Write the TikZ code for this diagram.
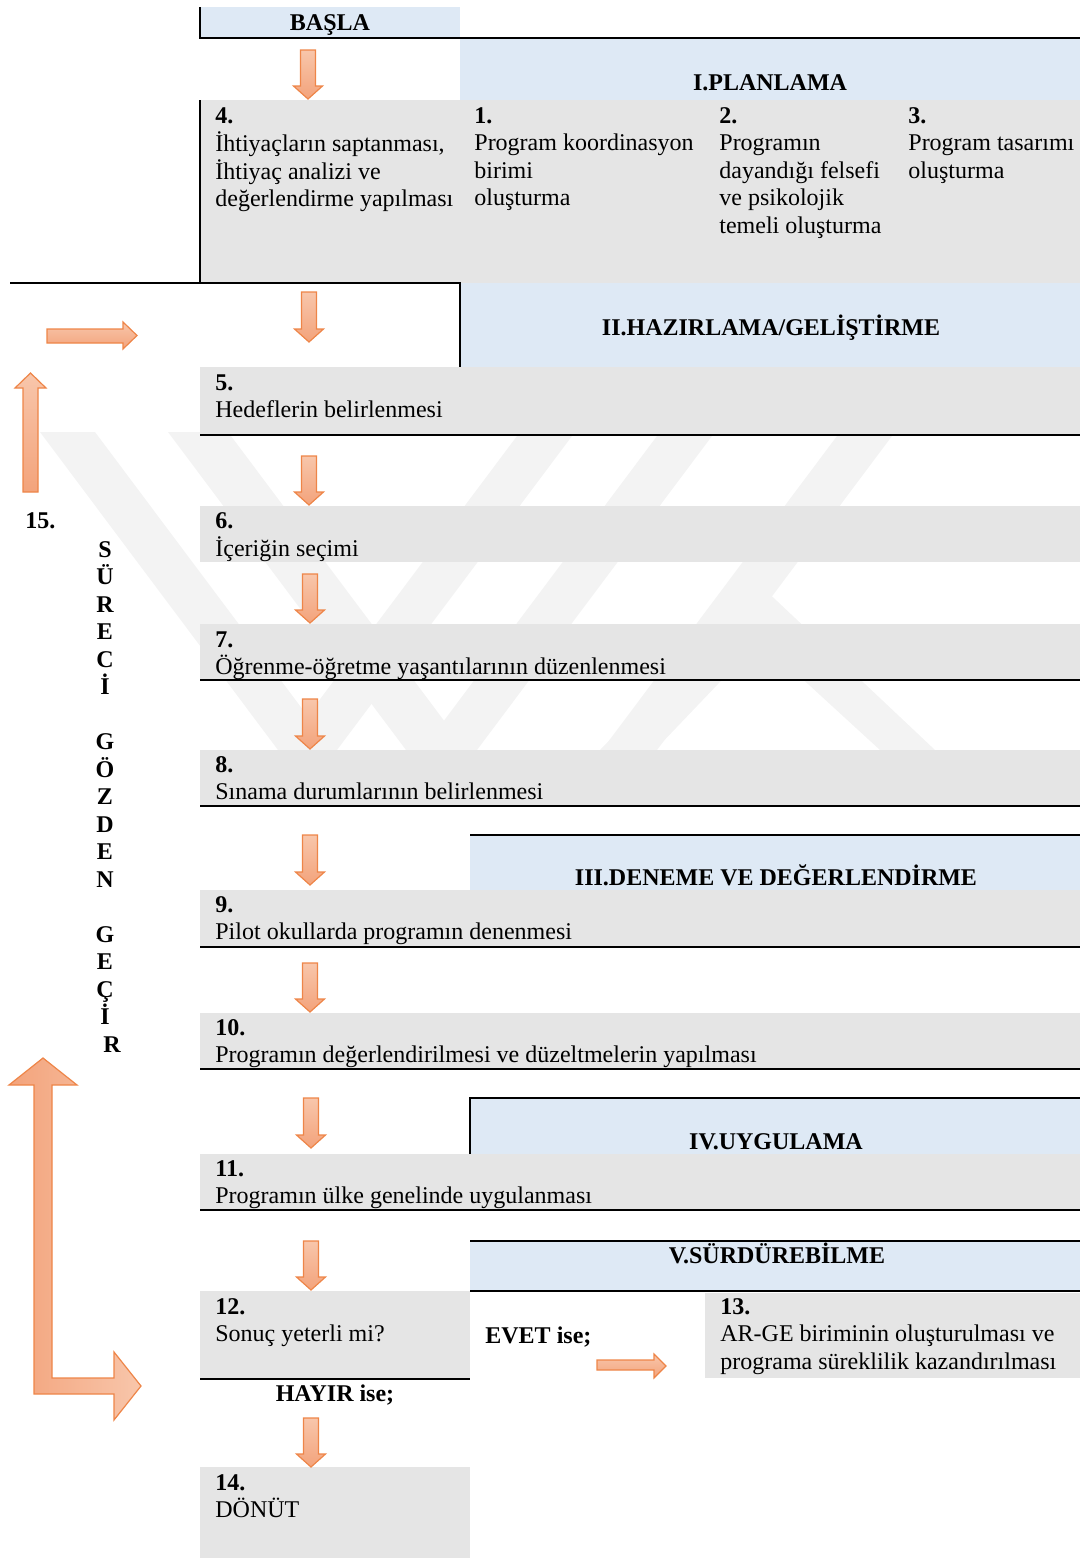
\documentclass[tikz,border=0pt]{standalone}
\usepackage{fontspec}
\setmainfont{Liberation Serif}
\usetikzlibrary{fit}

\definecolor{hdrblue}{HTML}{DEE9F5}
\definecolor{boxgray}{HTML}{E5E5E5}
\definecolor{markgray}{HTML}{F3F3F3}
\definecolor{arrline}{HTML}{EE8548}
\definecolor{arrlight}{HTML}{F8C6AB}
\definecolor{arrdark}{HTML}{F3A37B}

% numbered block: bold number on the first line, then the text lines
\newcommand\blk[2]{\begin{tabular}[t]{@{}l@{}}\textbf{#1}\\#2\end{tabular}}

% block arrow pointing down: centre x, top y, tip y
\newcommand\DownArr[3]{%
  \path[blockarrow] ({#1-7.5},#2) -- ({#1+7.5},#2) -- ({#1+7.5},{#3-13})
    -- ({#1+14.5},{#3-13}) -- (#1,#3) -- ({#1-14.5},{#3-13})
    -- ({#1-7.5},{#3-13}) -- cycle;}

\begin{document}
\begin{tikzpicture}[x=0.5pt,y=-0.5pt,
  font=\fontsize{12pt}{13.8pt}\selectfont,
  graybox/.style={fill=boxgray,draw=none,inner sep=0pt,outer sep=0pt},
  bluebox/.style={fill=hdrblue,draw=none,inner sep=0pt,outer sep=0pt},
  rule/.style={line width=1.25pt,draw=black},
  blockarrow/.style={draw=arrline,line width=0.6pt,top color=arrlight,bottom color=arrdark},
  txt/.style={anchor=base west,inner sep=0pt},
  hdr/.style={anchor=base,inner sep=0pt,font=\fontsize{12pt}{13.8pt}\selectfont\bfseries},
]
\useasboundingbox (0,0) rectangle (1080,1558);

% faint background emblem
\begin{scope}
  \clip (0,432) rectangle (1080,752);
  \fill[markgray] (40,432) -- (95,432) -- (333,750) -- (278,750) -- cycle;
  \fill[markgray] (168,432) -- (228,432) -- (466,750) -- (406,750) -- cycle;
  \fill[markgray] (520,432) -- (575,432) -- (337,750) -- (282,750) -- cycle;
  \fill[markgray] (660,432) -- (715,432) -- (477,750) -- (422,750) -- cycle;
  \fill[markgray] (840,432) -- (895,432) -- (657,750) -- (602,750) -- cycle;
  \fill[markgray] (760,585) -- (935,750) -- (880,750) -- (760,640) -- (655,750) -- (600,750) -- cycle;
\end{scope}

% header bands
\node[bluebox,fit={(200,7) (460,38)}] (hBasla) {};
\node[bluebox,fit={(460,38) (1080,100)}] (hPlan) {};
\node[bluebox,fit={(460,283) (1080,367)}] (hHaz) {};
\node[bluebox,fit={(470,835) (1080,890)}] (hDen) {};
\node[bluebox,fit={(470,1098) (1080,1154)}] (hUyg) {};
\node[bluebox,fit={(470,1241) (1080,1291)}] (hSur) {};

% step boxes
\node[graybox,fit={(200,100) (1080,283)}] (b1) {};
\node[graybox,fit={(200,367) (1080,435)}] (b5) {};
\node[graybox,fit={(200,506) (1080,562)}] (b6) {};
\node[graybox,fit={(200,624) (1080,680)}] (b7) {};
\node[graybox,fit={(200,750) (1080,806)}] (b8) {};
\node[graybox,fit={(200,890) (1080,947)}] (b9) {};
\node[graybox,fit={(200,1013) (1080,1069)}] (b10) {};
\node[graybox,fit={(200,1154) (1080,1210)}] (b11) {};
\node[graybox,fit={(200,1291) (470,1379)}] (b12) {};
\node[graybox,fit={(705,1293) (1080,1378)}] (b13) {};
\node[graybox,fit={(200,1467) (470,1558)}] (b14) {};

% black rules
\draw[rule] (hBasla.north west) -- (hBasla.south west) -- (hPlan.north east);
\draw[rule] (b1.north west) -- (b1.south west);
\draw[rule] (10,283) -- (hHaz.north west) -- (hHaz.south west);
\draw[rule] (b5.south west) -- (b5.south east);
\draw[rule] (b7.south west) -- (b7.south east);
\draw[rule] (b8.south west) -- (b8.south east);
\draw[rule] (hDen.north west) -- (hDen.north east);
\draw[rule] (b9.south west) -- (b9.south east);
\draw[rule] (b10.south west) -- (b10.south east);
\draw[rule] (hUyg.south west) -- (hUyg.north west) -- (hUyg.north east);
\draw[rule] (b11.south west) -- (b11.south east);
\draw[rule] (hSur.north west) -- (hSur.north east);
\draw[rule] (hSur.south west) -- (hSur.south east);
\draw[rule] (b12.south west) -- (b12.south east);

% flow arrows
\DownArr{308}{50}{99}
\DownArr{309}{292}{342}
\DownArr{309}{456}{505}
\DownArr{310}{574}{623}
\DownArr{310}{699}{749}
\DownArr{310}{835}{885}
\DownArr{310}{963}{1012}
\DownArr{311}{1098}{1148}
\DownArr{311}{1241}{1290}
\DownArr{311}{1418}{1467}

% review loop arrows on the left
\path[blockarrow] (47,329) -- (123,329) -- (123,322) -- (137,335.5) -- (123,349)
  -- (123,343) -- (47,343) -- cycle;
\path[blockarrow] (23,492) -- (23,388) -- (15,388) -- (30.5,373) -- (46,388)
  -- (38,388) -- (38,492) -- cycle;
\path[draw=arrline,line width=0.6pt,left color=arrdark,right color=arrlight]
  (34,1085) -- (9,1085) -- (43,1058) -- (77,1085) -- (52,1085) -- (52,1378)
  -- (114,1378) -- (114,1352) -- (141,1386) -- (114,1420) -- (114,1394)
  -- (34,1394) -- cycle;
\path[blockarrow] (597,1360) -- (654,1360) -- (654,1354) -- (666,1366) -- (654,1378)
  -- (654,1370) -- (597,1370) -- cycle;

% header texts
\node[hdr] (lBasla) at (330,30) {BAŞLA};
\node[hdr] (lPlan) at (770,90) {I.PLANLAMA};
\node[hdr] (lHaz) at (771,335) {II.HAZIRLAMA/GELİŞTİRME};
\node[hdr] (lDen) at (776,885) {III.DENEME VE DEĞERLENDİRME};
\node[hdr] (lUyg) at (776,1149) {IV.UYGULAMA};
\node[hdr] (lSur) at (777,1263) {V.SÜRDÜREBİLME};

% step texts
\node[txt] (t4) at (215,123) {\blk{4.}{İhtiyaçların saptanması,\\İhtiyaç analizi ve\\değerlendirme yapılması}};
\node[txt] (t1) at (474,123) {\blk{1.}{Program koordinasyon\\birimi\\oluşturma}};
\node[txt] (t2) at (719,123) {\blk{2.}{Programın\\dayandığı felsefi\\ve psikolojik\\temeli oluşturma}};
\node[txt] (t3) at (908,123) {\blk{3.}{Program tasarımı\\oluşturma}};
\node[txt] (t5) at (215,390) {\blk{5.}{Hedeflerin belirlenmesi}};
\node[txt] (t6) at (215,528) {\blk{6.}{İçeriğin seçimi}};
\node[txt] (t7) at (215,647) {\blk{7.}{Öğrenme-öğretme yaşantılarının düzenlenmesi}};
\node[txt] (t8) at (215,772) {\blk{8.}{Sınama durumlarının belirlenmesi}};
\node[txt] (t9) at (215,912) {\blk{9.}{Pilot okullarda programın denenmesi}};
\node[txt] (t10) at (215,1035) {\blk{10.}{Programın değerlendirilmesi ve düzeltmelerin yapılması}};
\node[txt] (t11) at (215,1176) {\blk{11.}{Programın ülke genelinde uygulanması}};
\node[txt] (t12) at (215,1314) {\blk{12.}{Sonuç yeterli mi?}};
\node[txt] (t13) at (720,1314) {\blk{13.}{AR-GE biriminin oluşturulması ve\\programa süreklilik kazandırılması}};
\node[txt] (t14) at (215,1490) {\blk{14.}{DÖNÜT}};

% decision labels
\node[txt,font=\fontsize{12pt}{13.8pt}\selectfont\bfseries] (lEvet) at (485,1343) {EVET ise;};
\node[hdr] (lHayir) at (335,1401) {HAYIR ise;};

% step 15, written top to bottom
\node[txt,font=\fontsize{12pt}{13.8pt}\selectfont\bfseries] (t15) at (25,528) {15.};
\foreach \ch/\row in {S/0,Ü/1,R/2,E/3,C/4,İ/5,G/7,Ö/8,Z/9,D/10,E/11,N/12,G/14,E/15,Ç/16,İ/17}
  \node[hdr] at (105,{557+27.5*\row}) {\ch};
\node[hdr] (lastR) at (112,{557+27.5*18}) {R};
\end{tikzpicture}
\end{document}
